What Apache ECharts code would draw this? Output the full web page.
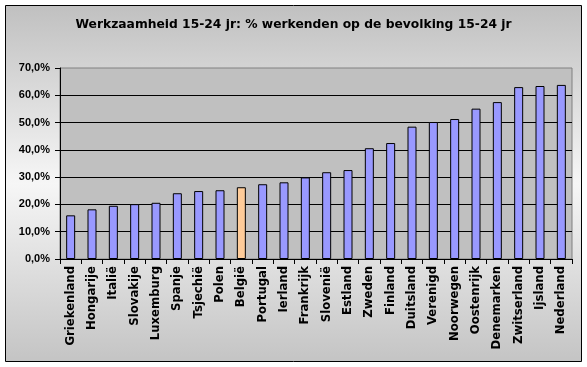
<!DOCTYPE html>
<html>
<head>
<meta charset="utf-8">
<script src="https://cdn.jsdelivr.net/npm/echarts@6/dist/echarts.min.js"></script>
<style>
html,body{margin:0;padding:0;background:#fff;}
#chart{width:587px;height:367px;}
</style>
</head>
<body>
<div id="chart"></div>
<script>
const titleText = 'Werkzaamheid 15-24 jr: % werkenden op de bevolking 15-24 jr';
const countries = ['Griekenland','Hongarije','Italië','Slovakije','Luxemburg','Spanje','Tsjechië','Polen','België','Portugal','Ierland','Frankrijk','Slovenië','Estland','Zweden','Finland','Duitsland','Verenigd','Noorwegen','Oostenrijk','Denemarken','Zwitserland','Ijsland','Nederland'];
const values = [16.0,18.2,19.5,20.1,20.6,24.1,24.9,25.2,26.3,27.4,28.1,29.9,31.8,32.6,40.6,42.5,48.5,50.2,51.3,55.1,57.5,63.0,63.4,63.8];
const highlight = 'België';
const yTicks = [0,10,20,30,40,50,60,70];

const chart = echarts.init(document.getElementById('chart'), null, {renderer:'canvas'});
const option = {
  animation:false,
  backgroundColor:'#ffffff',
  graphic:[{
    type:'rect', z:-100, silent:true,
    shape:{x:5.5,y:5.5,width:576,height:356},
    style:{
      fill:new echarts.graphic.LinearGradient(0,0,0,1,[
        {offset:0,color:'#c0c0c0'},
        {offset:0.5,color:'#f6f6f6'},
        {offset:1,color:'#c4c4c4'}
      ]),
      stroke:'#000', lineWidth:1
    }
  }],
  title:{
    text:titleText, left:'center', top:14,
    textStyle:{fontFamily:'DejaVu Sans', fontWeight:'bold', fontSize:12.3, color:'#000'}
  },
  grid:{left:60,right:15,top:68,bottom:108,show:true,backgroundColor:'#c0c0c0',borderColor:'#808080',borderWidth:1},
  xAxis:{
    type:'category', data:countries,
    axisLine:{lineStyle:{color:'#000',width:1}},
    axisTick:{show:true,alignWithLabel:false,length:5,lineStyle:{color:'#000'}},
    axisLabel:{rotate:90,interval:0,margin:7,color:'#000',fontFamily:'DejaVu Sans',fontWeight:'bold',fontSize:11.7}
  },
  yAxis:{
    type:'value', min:yTicks[0], max:yTicks[yTicks.length-1], interval:10,
    axisLine:{show:true,lineStyle:{color:'#000',width:1}},
    axisTick:{show:true,length:5,lineStyle:{color:'#000'}},
    axisLabel:{color:'#000',fontFamily:'Liberation Sans, Arial',fontWeight:'bold',fontSize:11,margin:10,
      formatter:v=>v.toFixed(1).replace('.',',')+'%'},
    splitLine:{show:true,showMaxLine:false,lineStyle:{color:'#000',width:1}}
  },
  series:[{
    type:'bar', barWidth:9,
    data:values.map((v,i)=>({value:v,itemStyle:{color:countries[i]===highlight?'#ffcc99':'#9999ff'}})),
    itemStyle:{borderColor:'#000',borderWidth:1}
  }]
};
chart.setOption(option);
</script>
</body>
</html>
